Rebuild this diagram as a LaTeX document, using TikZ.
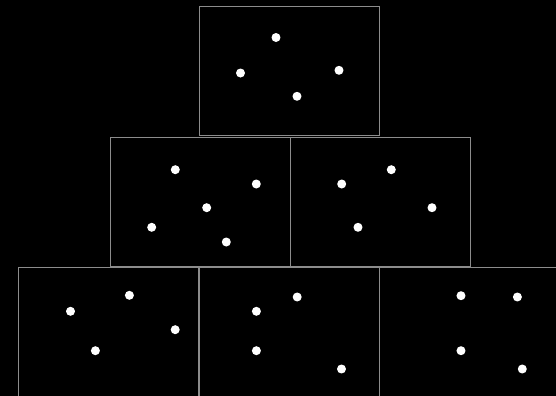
\documentclass[tikz,border=0pt]{standalone}
\usepackage{xcolor}
\usepackage{tikz}
\definecolor{panelgray}{HTML}{8C8C8C}
\newcommand{\marble}[3]{%
    % #1=name, #2=x, #3=y
    \node[marble] (#1) at (#2,#3) {};
}

\begin{document}
\begin{tikzpicture}[x=0.02cm, y=-0.02cm,
    panel/.style={rectangle, draw=panelgray, line width=0.5pt, minimum width=3.6cm, minimum height=2.58cm, inner sep=0pt},
    marble/.style={circle, fill=white, minimum size=0.18cm, inner sep=0pt}
]
    \fill[black] (0,0) rectangle (556,396);
    \useasboundingbox (0,0) rectangle (556,396);

    % panels
    \node[panel] (top) at (289,70.5) {};
    \node[panel] (midL) at (200,202) {};
    \node[panel] (midR) at (380,202) {};
    \node[panel] (botL) at (108.5,332) {};
    \node[panel] (botM) at (289,332) {};
    \node[panel] (botR) at (469.5,332) {};

    % top panel
    \marble{t1}{276}{37.5}
    \marble{t2}{240.5}{73}
    \marble{t3}{339}{70.3}
    \marble{t4}{297}{96.3}

    % middle row
    \marble{ml1}{175.3}{169.7}
    \marble{ml2}{256.3}{184}
    \marble{ml3}{206.7}{207.7}
    \marble{ml4}{151.7}{227.3}
    \marble{ml5}{226.3}{242}
    \marble{mr1}{391.3}{169.7}
    \marble{mr2}{341.7}{184}
    \marble{mr3}{432}{207.7}
    \marble{mr4}{358}{227.3}

    % bottom row
    \marble{bl1}{70.5}{311.3}
    \marble{bl2}{129.4}{295.3}
    \marble{bl3}{175.2}{329.7}
    \marble{bl4}{95.4}{350.7}
    \marble{bm1}{256.4}{311.3}
    \marble{bm2}{297.2}{297}
    \marble{bm3}{256.4}{350.7}
    \marble{bm4}{341.5}{369}
    \marble{br1}{461}{295.7}
    \marble{br2}{517.4}{297}
    \marble{br3}{461}{350.7}
    \marble{br4}{522.3}{369}
\end{tikzpicture}
\end{document}
